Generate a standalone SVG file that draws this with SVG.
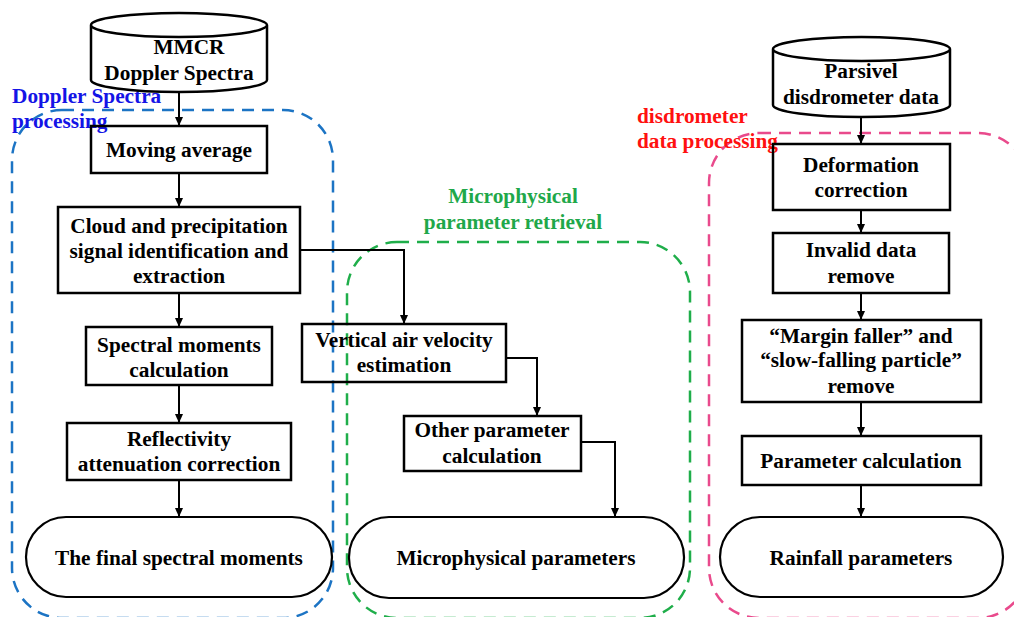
<svg xmlns="http://www.w3.org/2000/svg" width="1014" height="617" viewBox="0 0 1014 617">
<style>
text{font-family:"Liberation Serif","Times New Roman","DejaVu Serif",serif;font-weight:bold;font-size:21.3px;text-anchor:middle;fill:#000}
.box{fill:none;stroke:#000;stroke-width:2.5}
.cap{fill:none;stroke:#000;stroke-width:2.2}
.con{fill:none;stroke:#000;stroke-width:2}
.grp{fill:none;stroke-width:2.5;stroke-dasharray:12 8}
.lbl{text-anchor:start}
</style>
<defs>
<marker id="ah" markerUnits="userSpaceOnUse" markerWidth="9" markerHeight="8" refX="9" refY="4" orient="auto">
<path d="M0,0 L9,4 L0,8 z" fill="#000"/>
</marker>
</defs>
<rect width="1014" height="617" fill="#fff"/>
<g id="groups">
<g id="grp-doppler">
<rect class="grp" x="12" y="110" width="321" height="508" rx="50" stroke="#1c74c4"/>
<text class="lbl" x="12" y="103" style="fill:#1414e6">Doppler Spectra</text>
<text class="lbl" x="12" y="128" style="fill:#1414e6">processing</text>
</g>
<g id="grp-micro">
<rect class="grp" x="347" y="242" width="343" height="376" rx="50" stroke="#1fae4a"/>
<text x="513" y="203" style="fill:#1fa84a">Microphysical</text>
<text x="513" y="229" style="fill:#1fa84a">parameter retrieval</text>
</g>
<g id="grp-disdro">
<rect class="grp" x="709" y="133" width="319" height="485" rx="50" stroke="#e94a8c"/>
<text class="lbl" x="637" y="123" style="fill:#ff1010">disdrometer</text>
<text class="lbl" x="637" y="148" style="fill:#ff1010">data processing</text>
</g>
</g>
<g id="connectors">
<line class="con" x1="179" y1="92" x2="179" y2="126" marker-end="url(#ah)"/>
<line class="con" x1="179" y1="173" x2="179" y2="207" marker-end="url(#ah)"/>
<line class="con" x1="179" y1="293" x2="179" y2="327" marker-end="url(#ah)"/>
<line class="con" x1="179" y1="385" x2="179" y2="423" marker-end="url(#ah)"/>
<line class="con" x1="179" y1="480" x2="179" y2="517" marker-end="url(#ah)"/>
<polyline class="con" points="300,250 404,250 404,324" marker-end="url(#ah)"/>
<polyline class="con" points="506,358 537,358 537,416" marker-end="url(#ah)"/>
<polyline class="con" points="581,442 615,442 615,517" marker-end="url(#ah)"/>
<line class="con" x1="861" y1="117" x2="861" y2="144" marker-end="url(#ah)"/>
<line class="con" x1="861" y1="210" x2="861" y2="233" marker-end="url(#ah)"/>
<line class="con" x1="861" y1="293" x2="861" y2="320" marker-end="url(#ah)"/>
<line class="con" x1="861" y1="402" x2="861" y2="436" marker-end="url(#ah)"/>
<line class="con" x1="861" y1="485" x2="861" y2="517" marker-end="url(#ah)"/>
</g>
<g id="mmcr">
<path class="box" d="M91,25 A88,12 0 0 1 267,25 L267,80 A88,12 0 0 1 91,80 Z M91,25 A88,12 0 0 0 267,25"/>
<text x="189" y="54">MMCR</text>
<text x="179" y="80">Doppler Spectra</text>
</g>
<g id="moving-average">
<rect class="box" x="91" y="126" width="176" height="47"/>
<text x="179" y="157">Moving average</text>
</g>
<g id="cloud-signal">
<rect class="box" x="58" y="207" width="242" height="86"/>
<text x="179" y="233">Cloud and precipitation</text>
<text x="179" y="258">signal identification and</text>
<text x="179" y="283">extraction</text>
</g>
<g id="spectral-moments">
<rect class="box" x="86" y="327" width="186" height="58"/>
<text x="179" y="352">Spectral moments</text>
<text x="179" y="377">calculation</text>
</g>
<g id="reflectivity">
<rect class="box" x="67" y="423" width="224" height="57"/>
<text x="179" y="446">Reflectivity</text>
<text x="179" y="471">attenuation correction</text>
</g>
<g id="final-moments">
<rect class="cap" x="26" y="517" width="306" height="80" rx="40"/>
<text x="179" y="565">The final spectral moments</text>
</g>
<g id="vertical-air">
<rect class="box" x="302" y="324" width="204" height="58"/>
<text x="404" y="347">Vertical air velocity</text>
<text x="404" y="372">estimation</text>
</g>
<g id="other-param">
<rect class="box" x="404" y="416" width="177" height="55"/>
<text x="492" y="437">Other parameter</text>
<text x="492" y="463">calculation</text>
</g>
<g id="micro-params">
<rect class="cap" x="349" y="517" width="335" height="81" rx="40"/>
<text x="516" y="565">Microphysical parameters</text>
</g>
<g id="parsivel">
<path class="box" d="M773,49 A88,12 0 0 1 950,49 L950,105 A88,12 0 0 1 773,105 Z M773,49 A88,12 0 0 0 950,49"/>
<text x="861" y="78">Parsivel</text>
<text x="861" y="104">disdrometer data</text>
</g>
<g id="deformation">
<rect class="box" x="773" y="144" width="177" height="66"/>
<text x="861" y="172">Deformation</text>
<text x="861" y="197">correction</text>
</g>
<g id="invalid">
<rect class="box" x="773" y="233" width="176" height="60"/>
<text x="861" y="257">Invalid data</text>
<text x="861" y="283">remove</text>
</g>
<g id="margin-faller">
<rect class="box" x="742" y="320" width="239" height="82"/>
<text x="861" y="343">“Margin faller” and</text>
<text x="861" y="367">“slow-falling particle”</text>
<text x="861" y="393">remove</text>
</g>
<g id="param-calc">
<rect class="box" x="742" y="436" width="239" height="49"/>
<text x="861" y="468">Parameter calculation</text>
</g>
<g id="rainfall">
<rect class="cap" x="720" y="517" width="283" height="80" rx="40"/>
<text x="861" y="565">Rainfall parameters</text>
</g>
</svg>
